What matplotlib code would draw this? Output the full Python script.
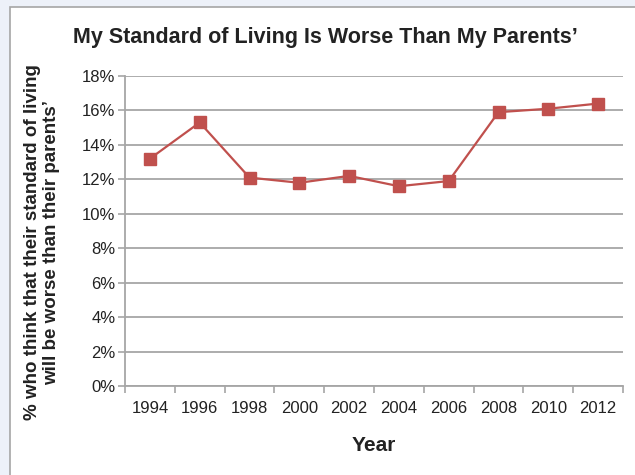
import matplotlib.pyplot as plt
from matplotlib.patches import Rectangle
from matplotlib.ticker import FixedLocator, NullFormatter

plt.rcParams['font.family'] = ['Liberation Sans', 'DejaVu Sans']

years = ['1994', '1996', '1998', '2000', '2002', '2004', '2006', '2008', '2010', '2012']
pct_worse = [13.2, 15.3, 12.1, 11.8, 12.2, 11.6, 11.9, 15.9, 16.1, 16.4]
y_ticks = [0, 2, 4, 6, 8, 10, 12, 14, 16, 18]

W, H = 635, 475
fig = plt.figure(figsize=(W / 100, H / 100), dpi=100)
fig.patch.set_facecolor('#edf1f9')

# white panel with grey border
panel = Rectangle((10 / W, -0.05), 1.0, 1 - 7 / H + 0.05, transform=fig.transFigure,
                  facecolor='white', edgecolor='#a6a6a6', linewidth=1.2, zorder=-10)
fig.patches.append(panel)

ax = fig.add_axes([125 / W, 89 / H, 498 / W, 310 / H])
ax.set_facecolor('white')

x = list(range(len(years)))
ax.plot(x, pct_worse, color='#c0504d', linewidth=1.6, marker='s',
        markersize=8.5, markeredgecolor='#c0504d', zorder=3)

ax.set_xlim(-0.5, len(years) - 0.5)
ax.set_ylim(0, 18)

ax.set_yticks(y_ticks)
ax.set_yticklabels([f'{v}%' for v in y_ticks])
ax.yaxis.grid(True, color='#a6a6a6', linewidth=1.3)
ax.set_axisbelow(True)

# category axis: ticks at boundaries, labels at centres
ax.xaxis.set_major_locator(FixedLocator([i - 0.5 for i in range(len(years) + 1)]))
ax.xaxis.set_major_formatter(NullFormatter())
ax.xaxis.set_minor_locator(FixedLocator(x))
ax.set_xticklabels(years, minor=True)
ax.tick_params(axis='x', which='major', length=5, width=1.2, color='#a6a6a6', direction='out')
ax.tick_params(axis='x', which='minor', length=0, labelsize=12, labelcolor='#222222', pad=11)
ax.tick_params(axis='y', length=5, width=1.2, color='#a6a6a6', labelsize=12,
               labelcolor='#222222', pad=2)

for side in ['top', 'right']:
    ax.spines[side].set_visible(False)
for side in ['left', 'bottom']:
    ax.spines[side].set_color('#a6a6a6')
    ax.spines[side].set_linewidth(1.3)

fig.text(325 / W, 1 - 37 / H, 'My Standard of Living Is Worse Than My Parents\u2019',
         ha='center', va='center', fontsize=15.5, fontweight='bold', color='#222222')
ax.set_xlabel('Year', fontsize=15, fontweight='bold', color='#222222', labelpad=14)
fig.text(42 / W, 0.5 - 5 / H,
         '% who think that their standard of living\nwill be worse than their parents\u2019',
         ha='center', va='center', rotation=90, fontsize=13.5, fontweight='bold',
         color='#222222', linespacing=1.2)

fig.savefig('out.png', dpi=100, facecolor=fig.get_facecolor())
